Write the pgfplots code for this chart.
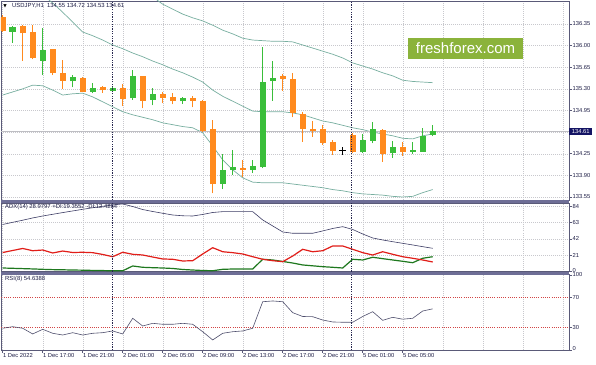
\documentclass[border=0pt]{standalone}
\usepackage{pgfplots}
\pgfplotsset{compat=1.18}
\usepackage{pgfplotstable}
\usepackage{fontspec}
\setmainfont{Liberation Sans}
\newfontfamily\dejavu{DejaVu Sans}

\definecolor{upc}{RGB}{58,190,58}
\definecolor{dnc}{RGB}{255,138,30}
\definecolor{bandc}{RGB}{120,175,160}
\definecolor{gridc}{RGB}{200,200,205}
\definecolor{framec}{RGB}{90,90,120}
\definecolor{sepc}{RGB}{110,110,150}
\definecolor{txtc}{RGB}{30,30,70}
\definecolor{adxc}{RGB}{60,60,100}
\definecolor{mdic}{RGB}{225,30,25}
\definecolor{pdic}{RGB}{30,120,30}
\definecolor{rsic}{RGB}{80,80,110}
\definecolor{lvlc}{RGB}{210,70,70}
\definecolor{bidbox}{RGB}{20,20,100}
\definecolor{ffx}{RGB}{139,179,59}
\definecolor{bidl}{RGB}{190,190,195}
\definecolor{perc}{RGB}{40,40,80}

\pgfplotstableread{
i o h l c
0 136.468 136.495 136.220 136.241
1 136.225 136.317 136.047 136.306
2 136.322 136.334 135.751 136.199
3 136.216 136.334 135.778 135.795
4 135.756 136.280 135.524 135.929
5 135.940 135.945 135.524 135.552
6 135.552 135.767 135.298 135.432
7 135.422 135.524 135.325 135.487
8 135.476 135.492 135.241 135.254
9 135.254 135.390 135.228 135.314
10 135.325 135.351 135.238 135.277
11 135.265 135.346 135.241 135.314
12 135.309 135.379 135.028 135.141
13 135.147 135.605 135.120 135.508
14 135.508 135.508 134.986 135.108
15 135.120 135.319 135.034 135.212
16 135.222 135.254 135.066 135.157
17 135.168 135.228 135.050 135.108
18 135.098 135.173 135.055 135.147
19 135.157 135.189 134.999 135.108
20 135.104 135.120 134.607 134.623
21 134.646 134.796 133.610 133.756
22 133.760 134.241 133.675 133.982
23 133.987 134.311 133.906 134.040
24 134.024 134.149 133.879 133.987
25 133.992 134.149 133.934 134.052
26 134.031 135.982 134.014 135.416
27 135.427 135.756 135.108 135.481
28 135.508 135.541 135.270 135.460
29 135.460 135.552 134.840 134.914
30 134.888 134.930 134.445 134.650
31 134.646 134.785 134.526 134.623
32 134.646 134.715 134.392 134.429
33 134.445 134.472 134.230 134.299
34 134.311 134.354 134.230 134.311
35 134.553 134.581 134.257 134.283
36 134.273 134.570 134.262 134.472
37 134.461 134.769 134.419 134.646
38 134.634 134.650 134.121 134.246
39 134.257 134.461 134.186 134.364
40 134.354 134.445 134.218 134.283
41 134.283 134.445 134.246 134.311
42 134.283 134.662 134.278 134.537
43 134.550 134.720 134.530 134.610
}\ohlc

\pgfplotstableread{
i up mid lo
0 nan 137.22 135.20
1 nan 137.14 135.25
2 nan 137.03 135.30
3 nan 136.93 135.36
4 nan 136.82 135.35
5 nan 136.69 135.28
6 nan 136.54 135.20
7 nan 136.38 135.22
8 nan 136.22 135.23
9 nan 136.16 135.17
10 nan 136.09 135.09
11 nan 136.01 135.01
12 137.01 135.95 134.93
13 136.93 135.88 134.88
14 136.85 135.82 134.84
15 136.79 135.75 134.80
16 136.67 135.69 134.75
17 136.59 135.62 134.72
18 136.51 135.56 134.69
19 136.45 135.49 134.67
20 136.40 135.41 134.59
21 136.33 135.28 134.375
22 136.25 135.18 134.15
23 136.19 135.10 133.99
24 136.12 135.02 133.86
25 136.09 134.94 133.79
26 136.08 134.93 133.78
27 136.07 134.93 133.78
28 136.07 134.93 133.78
29 136.06 134.91 133.76
30 136.01 134.88 133.74
31 135.96 134.83 133.72
32 135.91 134.78 133.70
33 135.86 134.75 133.67
34 135.80 134.71 133.65
35 135.72 134.67 133.62
36 135.67 134.64 133.60
37 135.62 134.60 133.59
38 135.56 134.57 133.58
39 135.51 134.54 133.56
40 135.44 134.50 133.55
41 135.42 134.49 133.56
42 135.41 134.54 133.62
43 135.40 134.57 133.67
}\bands

\pgfplotstableread{
i adx pdi mdi
0 60.4 4.5 24.4
1 63.2 4.1 27.0
2 65.9 3.7 29.6
3 68.8 3.3 26.7
4 71.3 2.8 27.6
5 73.5 2.4 23.8
6 75.7 2.2 26.3
7 77.8 1.9 24.4
8 79.9 1.7 24.7
9 81.9 1.4 24.2
10 83.8 1.2 21.9
11 85.5 0.9 19.0
12 86.8 0.9 24.7
13 83.5 7.1 22.1
14 79.6 5.4 21.2
15 77.1 4.9 18.6
16 74.8 4.5 16.1
17 72.6 3.9 15.7
18 71.6 2.6 13.5
19 71.3 1.9 13.9
20 73.3 1.3 22.5
21 75.8 1.0 30.6
22 76.9 2.8 25.4
23 76.9 3.2 24.2
24 76.9 3.2 22.5
25 76.9 3.2 19.0
26 66.2 15.7 15.7
27 58.5 14.8 13.9
28 50.8 12.9 12.6
29 49.1 10.9 19.9
30 49.1 8.4 28.5
31 49.1 7.3 25.4
32 52.1 6.2 26.7
33 55.3 5.4 32.8
34 57.6 4.5 32.8
35 54.0 15.7 28.5
36 48.2 14.8 24.2
37 43.1 18.3 21.2
38 40.5 16.5 25.4
39 38.3 14.8 22.1
40 36.2 13.1 19.0
41 34.1 11.3 17.0
42 31.9 17.0 14.8
43 29.8 19.0 12.2
}\adxtab

\pgfplotstableread{
i rsi
0 28.7
1 30.8
2 28.7
3 21.1
4 27.3
5 22.0
6 19.7
7 22.8
8 19.7
9 22.0
10 22.8
11 25.1
12 21.1
13 42.0
14 31.7
15 35.3
16 34.0
17 34.0
18 35.3
19 34.0
20 24.1
21 13.1
22 22.0
23 24.1
24 25.1
25 28.7
26 64.1
27 65.1
28 64.1
29 49.5
30 44.4
31 44.1
32 39.7
33 37.1
34 36.7
35 36.7
36 44.4
37 50.8
38 39.3
39 43.3
40 40.8
41 42.0
42 51.7
43 54.6
}\rsitab

\pgfplotsset{
  panel/.style={
    scale only axis, width=568pt, xmin=-0.17, xmax=56.63,
    clip mode=individual,
    axis line style={draw=framec, line width=0.6pt},
    xmajorgrids,
    grid style={draw=gridc, line width=0.4pt, dash pattern=on 1pt off 1pt},
    ytick pos=right, yticklabel pos=right, xtick pos=bottom,
    tick align=outside, major tick length=2.5pt,
    tick style={draw=framec, line width=0.5pt},
    yticklabel style={font=\fontsize{5.8}{6}\selectfont, text=txtc, inner sep=1pt},
    xticklabel style={font=\fontsize{5.8}{6}\selectfont, text=txtc, inner sep=1pt},
  },
  noxlab/.style={xtick={0,4,...,56}, xticklabels={}, xtick style={draw=none}},
}

\begin{document}
\begin{tikzpicture}[x=1pt,y=1pt]
\useasboundingbox (0,0) rectangle (596,364);
\fill[white] (0,0) rectangle (596,364);

% ---------------- main price panel ----------------
\begin{axis}[panel, noxlab, at={(1pt,164pt)}, anchor=south west, height=199pt,
  ymin=133.501, ymax=136.722, ymajorgrids,
  ytick={133.55,133.90,134.25,134.60,134.95,135.30,135.65,136.00,136.35},
  yticklabels={\raisebox{1.5pt}{133.55},133.90,134.25,,134.95,135.30,135.65,136.00,136.35}]
\addplot[bandc, line width=0.7pt] table[x=i,y=up]{\bands};
\addplot[bandc, line width=0.7pt] table[x=i,y=mid]{\bands};
\addplot[bandc, line width=0.7pt] table[x=i,y=lo]{\bands};
\draw[bidl, line width=0.5pt] ({rel axis cs:0,0} |- {axis cs:0,134.61}) -- ({rel axis cs:1,0} |- {axis cs:0,134.61});
% up candles
\addplot[draw=none, mark=none, forget plot,
  restrict expr to domain={\thisrow{c}-\thisrow{o}}{0.00001:10},
  error bars/.cd, y dir=plus, y explicit, error mark=none,
  error bar style={draw=upc, line width=0.9pt}]
  table[x=i, y=l, y error plus expr={\thisrow{h}-\thisrow{l}}] {\ohlc};
\addplot[draw=none, mark=none, forget plot,
  restrict expr to domain={\thisrow{c}-\thisrow{o}}{0.00001:10},
  error bars/.cd, y dir=plus, y explicit, error mark=none,
  error bar style={draw=upc, line width=6.4pt, line cap=butt}]
  table[x=i, y=o, y error plus expr={\thisrow{c}-\thisrow{o}}] {\ohlc};
% down candles
\addplot[draw=none, mark=none, forget plot,
  restrict expr to domain={\thisrow{o}-\thisrow{c}}{0.00001:10},
  error bars/.cd, y dir=plus, y explicit, error mark=none,
  error bar style={draw=dnc, line width=0.9pt}]
  table[x=i, y=l, y error plus expr={\thisrow{h}-\thisrow{l}}] {\ohlc};
\addplot[draw=none, mark=none, forget plot,
  restrict expr to domain={\thisrow{o}-\thisrow{c}}{0.00001:10},
  error bars/.cd, y dir=plus, y explicit, error mark=none,
  error bar style={draw=dnc, line width=6.4pt, line cap=butt}]
  table[x=i, y=c, y error plus expr={\thisrow{o}-\thisrow{c}}] {\ohlc};
% doji
\addplot[draw=none, mark=none, forget plot,
  restrict expr to domain={\thisrow{o}-\thisrow{c}}{-0.00001:0.00001},
  error bars/.cd, y dir=plus, y explicit, error mark=none,
  error bar style={draw=black, line width=0.8pt}]
  table[x=i, y=l, y error plus expr={\thisrow{h}-\thisrow{l}}] {\ohlc};
\addplot[draw=none, mark=none, forget plot,
  restrict expr to domain={\thisrow{o}-\thisrow{c}}{-0.00001:0.00001},
  error bars/.cd, x dir=both, x explicit, error mark=none,
  error bar style={draw=black, line width=0.8pt}]
  table[x=i, y=o, x error expr=0.35] {\ohlc};
\draw[perc, line width=0.5pt, dash pattern=on 1.2pt off 1.2pt] ({axis cs:10.95,0} |- {rel axis cs:0,0}) -- ({axis cs:10.95,0} |- {rel axis cs:0,1});
\draw[perc, line width=0.5pt, dash pattern=on 1.2pt off 1.2pt] ({axis cs:34.9,0} |- {rel axis cs:0,0}) -- ({axis cs:34.9,0} |- {rel axis cs:0,1});
\node[fill=bidbox, text=white, anchor=west, font=\fontsize{5.8}{6}\selectfont, inner sep=1pt, minimum height=7.5pt, minimum width=23pt] at ({rel axis cs:1,0} |- {axis cs:0,134.61}) {134.61};
\end{axis}

% ---------------- ADX panel ----------------
\begin{axis}[panel, noxlab, at={(1pt,92.5pt)}, anchor=south west, height=68.5pt,
  ymin=0, ymax=88, ymajorgrids,
  ytick={0,21,42,63,84}, yticklabels={\raisebox{2.5pt}{0},21,42,63,84}]
\addplot[adxc, line width=0.6pt] table[x=i,y=adx]{\adxtab};
\addplot[pdic, line width=1.2pt] table[x=i,y=pdi]{\adxtab};
\addplot[mdic, line width=1.2pt] table[x=i,y=mdi]{\adxtab};
\draw[perc, line width=0.5pt, dash pattern=on 1.2pt off 1.2pt] ({axis cs:10.95,0} |- {rel axis cs:0,0}) -- ({axis cs:10.95,0} |- {rel axis cs:0,1});
\draw[perc, line width=0.5pt, dash pattern=on 1.2pt off 1.2pt] ({axis cs:34.9,0} |- {rel axis cs:0,0}) -- ({axis cs:34.9,0} |- {rel axis cs:0,1});
\end{axis}

% ---------------- RSI panel ----------------
\begin{axis}[panel, at={(1pt,14pt)}, anchor=south west, height=75.5pt,
  ymin=-0.3, ymax=100.4,
  ytick={0,30,70,100}, yticklabels={\raisebox{3pt}{0},30,70,\raisebox{-3.5pt}{100}},
  xtick={0,4,...,40},
  xticklabels={1 Dec 2022,1 Dec 17:00,1 Dec 21:00,2 Dec 01:00,2 Dec 05:00,2 Dec 09:00,2 Dec 13:00,2 Dec 17:00,2 Dec 21:00,5 Dec 01:00,5 Dec 05:00},
  xticklabel style={anchor=north west, xshift=-0.8pt},
  extra x ticks={44,48,52,56}, extra x tick labels={},
  extra x tick style={grid=major, major tick length=0pt}]
\addplot[lvlc, line width=0.5pt, dash pattern=on 1pt off 1.2pt] coordinates {(-1,70) (60,70)};
\addplot[lvlc, line width=0.5pt, dash pattern=on 1pt off 1.2pt] coordinates {(-1,30) (60,30)};
\addplot[rsic, line width=0.6pt] table[x=i,y=rsi]{\rsitab};
\draw[perc, line width=0.5pt, dash pattern=on 1.2pt off 1.2pt] ({axis cs:10.95,0} |- {rel axis cs:0,0}) -- ({axis cs:10.95,0} |- {rel axis cs:0,1});
\draw[perc, line width=0.5pt, dash pattern=on 1.2pt off 1.2pt] ({axis cs:34.9,0} |- {rel axis cs:0,0}) -- ({axis cs:34.9,0} |- {rel axis cs:0,1});
\end{axis}

% separators between panels
\fill[sepc] (1,161) rectangle (569,164);
\fill[sepc] (1,89.5) rectangle (569,92.5);

% titles
\node[anchor=west, inner sep=0pt, text=black] at (3.2,357.8) {\dejavu\fontsize{4.5}{5}\selectfont ▼};
\node[anchor=west, inner sep=0pt, text=txtc, font=\fontsize{5.9}{6}\selectfont] at (12,357.8) {USDJPY,H1\ \ 134.55 134.72 134.53 134.61};
\node[anchor=west, inner sep=0pt, text=txtc, font=\fontsize{5.9}{6}\selectfont] at (5,157) {ADX(14) 28.9797 +DI:19.3552 -DI:12.4284};
\node[anchor=west, inner sep=0pt, text=txtc, font=\fontsize{5.9}{6}\selectfont] at (5,85.3) {RSI(8) 54.6388};

% watermark
\node[fill=ffx, text=white, font=\fontsize{15}{15}\selectfont, minimum width=115pt, minimum height=21pt, inner sep=0pt] at (465.5,315.5) {freshforex.com};
\end{tikzpicture}
\end{document}
